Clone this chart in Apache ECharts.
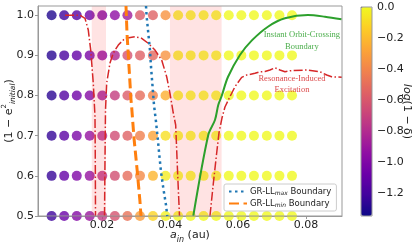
<!DOCTYPE html>
<html>
<head>
<meta charset="utf-8">
<script src="https://cdn.jsdelivr.net/npm/echarts@6/dist/echarts.min.js"></script>
<style>
  html, body { margin: 0; padding: 0; background: #fff; }
  #chart { width: 415px; height: 245px; }
</style>
</head>
<body>
<div id="chart"></div>
<script>
// grid of simulated systems: a_in columns, (1 - e^2) rows, colour = log(1 - δ)
var aCols = [0.0052, 0.0089, 0.0126, 0.0164, 0.0201, 0.0238, 0.0275, 0.0312, 0.0350, 0.0387,
             0.0424, 0.0461, 0.0499, 0.0536, 0.0573, 0.0610, 0.0647, 0.0685, 0.0722, 0.0759];
var eRows = [1.0, 0.9, 0.8, 0.7, 0.6, 0.5];
var logRow10 = [-1.30, -1.22, -1.14, -1.06, -1.00, -0.95, -0.88, -0.58, -0.55, -0.34, -0.03, -0.01, 0, 0, 0, 0, 0, 0, 0, 0];
var logRow09 = [-1.28, -1.19, -1.10, -1.02, -0.94, -0.82, -0.62, -0.56, -0.52, -0.34, -0.03, -0.01, 0, 0, 0, 0, 0, 0, 0, 0];
var logRow08 = [-1.27, -1.16, -1.06, -0.98, -0.88, -0.72, -0.58, -0.50, -0.40, -0.24, -0.02, 0, 0, 0, 0, 0, 0, 0, 0, 0];
var logRow07 = [-1.25, -1.13, -1.02, -0.92, -0.80, -0.65, -0.55, -0.42, -0.28, -0.08, -0.01, 0, 0, 0, 0, 0, 0, 0, 0, 0];
var logRow06 = [-1.24, -1.10, -1.00, -0.92, -0.76, -0.64, -0.50, -0.38, -0.22, -0.04, 0, 0, 0, 0, 0, 0, 0, 0, 0, 0];
var logRow05 = [-1.22, -1.08, -0.98, -0.90, -0.74, -0.62, -0.48, -0.30, -0.12, -0.02, 0, 0, 0, 0, 0, 0, 0, 0, 0, 0];
var logRows = [logRow10, logRow09, logRow08, logRow07, logRow06, logRow05];

// boundaries
var grMax = [[0.03296, 1.0229], [0.03316, 0.9963], [0.03363, 0.9557], [0.03413, 0.9133], [0.03443, 0.8718],
             [0.03481, 0.8312], [0.03531, 0.7764], [0.0359, 0.7348], [0.0364, 0.6942], [0.03687, 0.6519],
             [0.03737, 0.6103], [0.03804, 0.5697], [0.03884, 0.5274], [0.03922, 0.5]];
var grMin = [[0.02708, 1.0229], [0.02737, 0.9557], [0.02796, 0.8718], [0.02855, 0.7888], [0.02870, 0.7764],
             [0.02943, 0.6942], [0.0304, 0.6103], [0.03119, 0.5356], [0.03149, 0.5]];
var crossing = [[0.04686, 0.5], [0.05127, 0.7017], [0.05324, 0.739], [0.05421, 0.7764], [0.05521, 0.7988],
                [0.05706, 0.8461], [0.06059, 0.9009], [0.06403, 0.9367], [0.06882, 0.9714], [0.07382, 0.9923],
                [0.08058, 1.0005], [0.08558, 0.9963], [0.09049, 0.9898]];
var resA = [[0.00914, 1.0], [0.01355, 1.0], [0.01502, 0.9923], [0.01599, 0.9631], [0.0167, 0.9133],
            [0.01746, 0.8304], [0.01796, 0.7473], [0.01805, 0.6394], [0.01811, 0.5]];
var resB = [[0.02076, 0.5], [0.0209, 0.6394], [0.02105, 0.7639], [0.0214, 0.8312], [0.02237, 0.881],
            [0.02334, 0.9059], [0.02481, 0.9258], [0.02678, 0.9425], [0.02972, 0.9465], [0.03169, 0.9425],
            [0.03363, 0.93], [0.0356, 0.9133], [0.03757, 0.8884], [0.03904, 0.8469], [0.04001, 0.8055],
            [0.04098, 0.7565], [0.04169, 0.7266], [0.04228, 0.6021], [0.04281, 0.5]];
var resC = [[0.05177, 0.5], [0.05274, 0.5797], [0.05368, 0.6519], [0.05442, 0.7067], [0.0553, 0.744],
            [0.05618, 0.7714], [0.05765, 0.7971], [0.05912, 0.822], [0.06109, 0.8454], [0.06256, 0.8511],
            [0.065, 0.8553], [0.06647, 0.8593], [0.06794, 0.8598], [0.06941, 0.8635], [0.07088, 0.8693],
            [0.07235, 0.8635], [0.07382, 0.8593], [0.07529, 0.8618], [0.0802, 0.8635], [0.08411, 0.8593],
            [0.08611, 0.8511], [0.08755, 0.8469], [0.09058, 0.8454]];
var spans = [[0.0170, 0.0212], [0.0400, 0.0552]];

var xTicks = [0.02, 0.04, 0.06, 0.08];
var yTicks = [0.5, 0.6, 0.7, 0.8, 0.9, 1.0];
var cbTicks = [0, -0.2, -0.4, -0.6, -0.8, -1.0, -1.2];
var plasma = ['#0d0887', '#41049d', '#6a00a8', '#8f0da4', '#b12a90', '#cc4778',
              '#e16462', '#f2844b', '#fca636', '#fcce25', '#f0f921'];

var font = 'DejaVu Sans';
var frame = '#999';
var red = '#d62728';

var dots = [];
eRows.forEach(function(e, r) {
  aCols.forEach(function(a, c) { dots.push([a, e, logRows[r][c]]); });
});

var resStyle = { color: red, width: 1.5, type: [9, 2.4, 1.5, 2.4] };
function resSeries(d) {
  return { type: 'line', data: d, symbol: 'none', z: 5, lineStyle: resStyle, silent: true };
}

var chart = echarts.init(document.getElementById('chart'), null, { renderer: 'canvas' });
chart.setOption({
  animation: false,
  textStyle: { fontFamily: font },
  grid: [
    { left: 38, top: 6, width: 304, height: 210, outerBoundsMode: 'none', containLabel: false,
      show: true, borderColor: frame, borderWidth: 1, backgroundColor: 'transparent', z: 6 },
    { left: 361, top: 7, width: 11, height: 209, outerBoundsMode: 'none', containLabel: false,
      show: true, borderColor: frame, borderWidth: 1, backgroundColor: 'transparent', z: 10 }
  ],
  xAxis: [{
    type: 'value', min: 0.0012, max: 0.0906,
    axisLine: { lineStyle: { color: frame } },
    axisTick: { length: 3, lineStyle: { color: frame }, customValues: xTicks },
    axisLabel: { color: '#222', fontSize: 11, margin: 4, customValues: xTicks, formatter: function(v) { return v.toFixed(2); } },
    splitLine: { show: false },
    name: '{it|a}{sub|in}{n| (au)}', nameLocation: 'middle', nameGap: 14, nameMoveOverlap: false,
    nameTextStyle: { rich: {
      it: { fontFamily: font, fontStyle: 'italic', fontSize: 11, color: '#222', lineHeight: 14, verticalAlign: 'top' },
      sub: { fontFamily: font, fontStyle: 'italic', fontSize: 8, color: '#222', verticalAlign: 'bottom' },
      n: { fontFamily: font, fontSize: 11, color: '#222', verticalAlign: 'top' }
    } }
  }, { gridIndex: 1, type: 'value', show: false, min: 0, max: 1 }],
  yAxis: [{
    type: 'value', min: 0.5, max: 1.023,
    axisLine: { lineStyle: { color: frame } },
    axisTick: { length: 3, lineStyle: { color: frame }, customValues: yTicks },
    axisLabel: { color: '#222', fontSize: 11, margin: 4, customValues: yTicks, formatter: function(v) { return v.toFixed(1); } },
    splitLine: { show: false },
    name: '{n|(1 − e}{sup|2}{sub|initial}{n|)}', nameLocation: 'middle', nameGap: 21, nameMoveOverlap: false,
    nameTextStyle: { rich: {
      n: { fontFamily: font, fontSize: 11, color: '#222', lineHeight: 16 },
      sup: { fontFamily: font, fontSize: 7, color: '#222', verticalAlign: 'top' },
      sub: { fontFamily: font, fontStyle: 'italic', fontSize: 7.5, color: '#222', verticalAlign: 'bottom' }
    } }
  }, {
    gridIndex: 1, type: 'value', position: 'right', min: -1.35, max: 0,
    axisLine: { show: false },
    axisTick: { show: true, length: 3.5, lineStyle: { color: '#333' }, customValues: cbTicks },
    axisLabel: { color: '#222', fontSize: 11, margin: 5, customValues: cbTicks,
      formatter: function(v) { return v === 0 ? '0.0' : '\u2212' + Math.abs(v).toFixed(1); } },
    splitLine: { show: false },
    name: '{it|log}{n|(1 − δ)}', nameLocation: 'middle', nameRotate: -90, nameGap: 29, nameMoveOverlap: false,
    nameTextStyle: { rich: {
      it: { fontFamily: font, fontStyle: 'italic', fontSize: 11, color: '#222' },
      n: { fontFamily: font, fontSize: 11, color: '#222' }
    } }
  }],
  visualMap: {
    type: 'continuous', seriesIndex: 0, dimension: 2, min: -1.35, max: 0,
    inRange: { color: plasma },
    calculable: false, text: null, showLabel: false,
    left: 361, top: 7, padding: 0, itemWidth: 11, itemHeight: 209
  },
  legend: {
    data: [
      { name: 'GR-LL max', itemStyle: { opacity: 0 } },
      { name: 'GR-LL min', itemStyle: { opacity: 0 } }
    ],
    orient: 'vertical', left: 224, top: 184,
    padding: [3, 5, 3, 4], itemGap: 3, itemWidth: 18, itemHeight: 8,
    backgroundColor: 'rgba(255,255,255,0.85)', borderColor: '#ccc', borderWidth: 1, borderRadius: 2,
    formatter: function(n) { return n === 'GR-LL max' ? 'GR-LL{sub|max} Boundary' : 'GR-LL{sub|min} Boundary'; },
    textStyle: { fontSize: 8.5, color: '#222', padding: [0, 0, 0, -2], rich: {
      sub: { fontSize: 6, verticalAlign: 'bottom', fontStyle: 'italic', color: '#222' }
    } }
  },
  series: [
    { type: 'scatter', data: dots, symbolSize: 10, z: 2, clip: true, silent: true },
    { type: 'line', data: [], symbol: 'none', silent: true,
      markArea: { z: 3, silent: true, itemStyle: { color: 'rgba(255,0,0,0.11)' },
        data: spans.map(function(s) { return [{ xAxis: s[0] }, { xAxis: s[1] }]; }) } },
    resSeries(resA), resSeries(resB),
    Object.assign(resSeries(resC), {
      markPoint: { symbol: 'circle', symbolSize: 1, itemStyle: { color: 'transparent' }, silent: true,
        label: { show: true, position: 'inside', formatter: 'Resonance-Induced\nExcitation', fontFamily: 'Liberation Serif',
          fontSize: 8.5, lineHeight: 11, align: 'center', color: 'rgba(214,39,40,0.85)' },
        data: [{ coord: [0.07588, 0.8292] }] }
    }),
    { type: 'line', name: 'crossing', data: crossing, symbol: 'none', z: 5, silent: true, smooth: 0.3,
      lineStyle: { color: '#2ca02c', width: 2 },
      markPoint: { symbol: 'circle', symbolSize: 1, itemStyle: { color: 'transparent' }, silent: true,
        label: { show: true, position: 'inside', formatter: 'Instant Orbit-Crossing\nBoundary', fontFamily: 'Liberation Serif',
          fontSize: 8.5, lineHeight: 12, align: 'center', color: 'rgba(44,160,44,0.85)' },
        data: [{ coord: [0.0788, 0.9353] }] } },
    { type: 'line', name: 'GR-LL max', data: grMax, symbol: 'none', z: 6, silent: true,
      lineStyle: { color: '#1f77b4', width: 2.5, type: [2.5, 3.5] } },
    { type: 'line', name: 'GR-LL min', data: grMin, symbol: 'none', z: 6, silent: true,
      lineStyle: { color: '#ff7f0e', width: 3, type: [10, 4.5] } }
  ]
});
</script>
</body>
</html>
